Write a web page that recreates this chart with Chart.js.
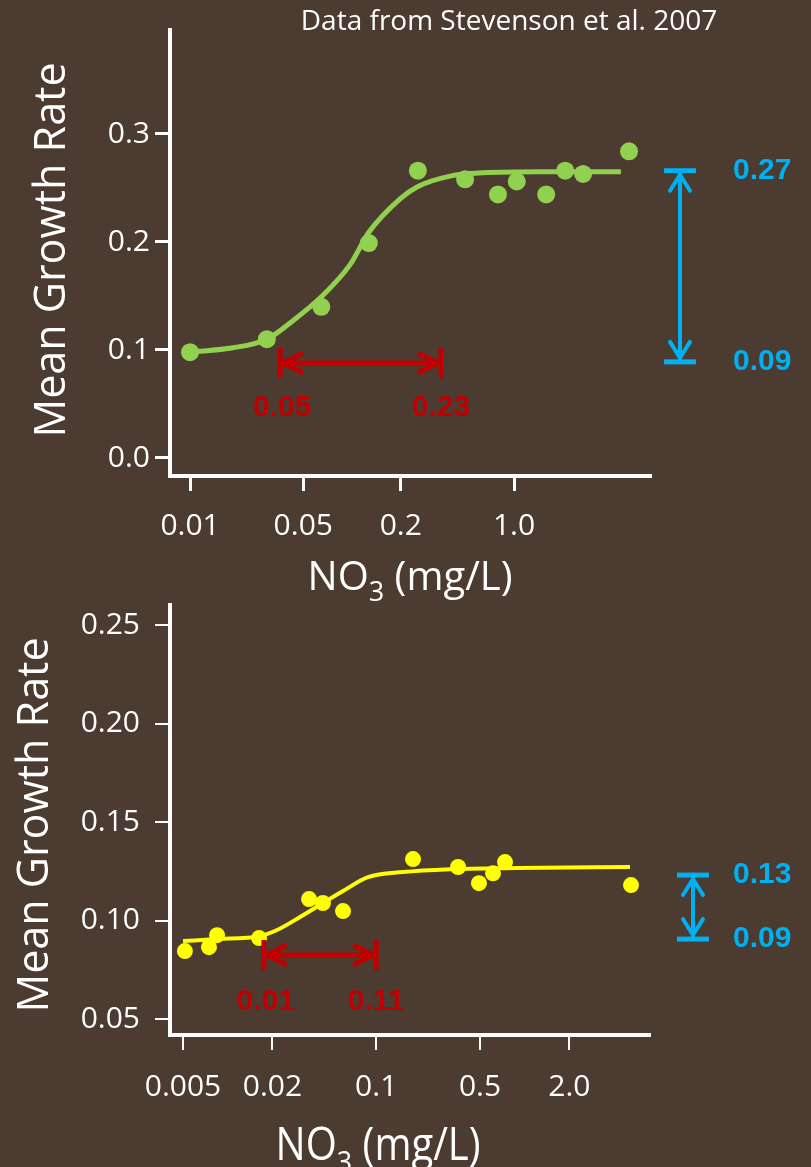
<!DOCTYPE html>
<html lang="en">
<head>
  <meta charset="UTF-8" />
  <title>Mean Growth Rate vs NO3</title>
  <script src="https://cdn.jsdelivr.net/npm/chart.js"></script>
  <style>
    body { margin: 0; background: #4b3b30; width: 811px; height: 1167px; overflow: hidden; position: relative; }
    canvas { position: absolute; left: 0; }
    #topChart { top: 0; }
    #bottomChart { top: 580px; }
  </style>
</head>
<body>
  <canvas id="topChart" width="811" height="612"></canvas>
  <canvas id="bottomChart" width="811" height="587"></canvas>

<script>
  // top panel (green)
  const topDotX = [0.01, 0.0298, 0.0646, 0.127, 0.255, 0.499, 0.796, 1.04, 1.58, 2.07, 2.67, 5.13];
  const topDotY = [0.098, 0.110, 0.140, 0.199, 0.266, 0.258, 0.244, 0.256, 0.244, 0.266, 0.263, 0.284];
  const topFitX = [0.01, 0.0184, 0.0298, 0.0414, 0.0644, 0.0973, 0.127, 0.198, 0.252, 0.403, 0.644, 1.5, 4.57];
  const topFitY = [0.098, 0.102, 0.110, 0.125, 0.149, 0.179, 0.209, 0.240, 0.251, 0.261, 0.264, 0.265, 0.265];
  const topXTicks = [0.01, 0.05, 0.2, 1.0];
  const topXLabels = ['0.01', '0.05', '0.2', '1.0'];
  const topYTicks = [0, 0.1, 0.2, 0.3];
  const topYLabels = ['0.0', '0.1', '0.2', '0.3'];
  const topSpan = [0.036, 0.354];        // red arrow ends (x)
  const topSpanLabels = ['0.05', '0.23'];
  const topRange = [0.266, 0.089];       // blue arrow ends (y)
  const topRangeLabels = ['0.27', '0.09'];

  // bottom panel (yellow)
  const botDotX = [0.00515, 0.00748, 0.00848, 0.01626, 0.0353, 0.0438, 0.0598, 0.177, 0.356, 0.492, 0.612, 0.737, 5.2];
  const botDotY = [0.0845, 0.0865, 0.0926, 0.0911, 0.1109, 0.1089, 0.1048, 0.1312, 0.1272, 0.119, 0.124, 0.1297, 0.118];
  const botFitX = [0.005, 0.00848, 0.0165, 0.0215, 0.0307, 0.0438, 0.0598, 0.0881, 0.151, 0.314, 0.887, 5.12];
  const botFitY = [0.0896, 0.0906, 0.0921, 0.0952, 0.1018, 0.1089, 0.115, 0.122, 0.1246, 0.1261, 0.1267, 0.1272];
  const botXTicks = [0.005, 0.02, 0.1, 0.5, 2.0];
  const botXLabels = ['0.005', '0.02', '0.1', '0.5', '2.0'];
  const botYTicks = [0.05, 0.10, 0.15, 0.20, 0.25];
  const botYLabels = ['0.05', '0.10', '0.15', '0.20', '0.25'];
  const botSpan = [0.01754, 0.1];
  const botSpanLabels = ['0.01', '0.11'];
  const botRange = [0.1231, 0.0906];
  const botRangeLabels = ['0.13', '0.09'];

  const white = '#ffffff';
  const red = '#c00000';
  const blue = '#00b0f0';
  const font = "'Open Sans', sans-serif";
  const boldFont = "bold 30px 'Liberation Sans', Arial, sans-serif";

  const pts = (xs, ys) => xs.map((v, i) => ({ x: v, y: ys[i] }));

  function seg(ctx, x1, y1, x2, y2) {
    ctx.beginPath(); ctx.moveTo(x1, y1); ctx.lineTo(x2, y2); ctx.stroke();
  }
  function poly(ctx, p) {
    ctx.beginPath(); ctx.moveTo(p[0], p[1]); ctx.lineTo(p[2], p[3]); ctx.lineTo(p[4], p[5]); ctx.stroke();
  }

  const decor = {
    id: 'decor',
    afterDraw(chart, args, o) {
      const { ctx, chartArea: a, scales: { x, y } } = chart;
      ctx.save();
      ctx.fillStyle = white;

      if (o.credit) {
        ctx.font = `28px ${font}`;
        ctx.textAlign = 'center';
        ctx.textBaseline = 'alphabetic';
        ctx.fillText(o.credit, 509, 30);
      }

      // y title
      ctx.save();
      ctx.font = `43px ${font}`;
      ctx.translate(o.yTitleX, (a.top + a.bottom) / 2 + o.yTitleShift);
      ctx.rotate(-Math.PI / 2);
      ctx.textAlign = 'center';
      ctx.textBaseline = 'alphabetic';
      ctx.fillText('Mean Growth Rate', 0, 0);
      ctx.restore();

      // x title: NO3 (mg/L) with subscript
      ctx.save();
      ctx.translate(o.xTitleX, o.xTitleY);
      ctx.scale(1, o.xTitleStretch);
      ctx.textAlign = 'left';
      ctx.textBaseline = 'alphabetic';
      const big = `40px ${font}`, small = `27px ${font}`;
      ctx.font = big; const w1 = ctx.measureText('NO').width; const w3 = ctx.measureText(' (mg/L)').width;
      ctx.font = small; const w2 = ctx.measureText('3').width;
      let cx = -(w1 + w2 + w3) / 2;
      ctx.font = big; ctx.fillText('NO', cx, 0); cx += w1;
      ctx.font = small; ctx.fillText('3', cx, 11); cx += w2;
      ctx.font = big; ctx.fillText(' (mg/L)', cx, 0);
      ctx.restore();

      // red span arrow
      const x1 = x.getPixelForValue(o.span[0]);
      const x2 = x.getPixelForValue(o.span[1]);
      const yy = y.getPixelForValue(o.spanY);
      ctx.strokeStyle = red; ctx.lineWidth = 5; ctx.lineCap = 'butt';
      seg(ctx, x1, yy, x2, yy);
      seg(ctx, x1, yy - 15, x1, yy + 15);
      seg(ctx, x2, yy - 15, x2, yy + 15);
      poly(ctx, [x1 + 23, yy - 10, x1 + 3, yy, x1 + 23, yy + 10]);
      poly(ctx, [x2 - 23, yy - 10, x2 - 3, yy, x2 - 23, yy + 10]);
      ctx.fillStyle = red; ctx.font = boldFont;
      ctx.textAlign = 'center'; ctx.textBaseline = 'middle';
      ctx.fillText(o.spanLabels[0], x1 + 2, yy + o.spanLabelDy);
      ctx.fillText(o.spanLabels[1], x2, yy + o.spanLabelDy);

      // blue range arrow
      const bx = a.right + o.rangeDx;
      const y1 = y.getPixelForValue(o.range[0]);
      const y2 = y.getPixelForValue(o.range[1]);
      ctx.strokeStyle = blue; ctx.lineWidth = 4; ctx.lineCap = 'round';
      seg(ctx, bx, y1 + 2, bx, y2 - 2);
      poly(ctx, [bx - 10, y1 + 20, bx, y1 + 4, bx + 10, y1 + 20]);
      poly(ctx, [bx - 10, y2 - 20, bx, y2 - 4, bx + 10, y2 - 20]);
      ctx.lineCap = 'butt'; ctx.lineWidth = 5;
      seg(ctx, bx - 16, y1, bx + 16, y1);
      seg(ctx, bx - 16, y2, bx + 16, y2);
      ctx.fillStyle = blue;
      ctx.textAlign = 'left'; ctx.textBaseline = 'middle';
      ctx.fillText(o.rangeLabels[0], a.right + 83, y1);
      ctx.fillText(o.rangeLabels[1], a.right + 83, y2);

      ctx.restore();
    }
  };

  function makePanel(id, p) {
    const canvas = document.getElementById(id);
    return new Chart(canvas, {
      type: 'scatter',
      data: {
        datasets: [
          { data: pts(p.dotX, p.dotY), pointRadius: p.dotR, pointBackgroundColor: p.color, pointBorderWidth: 0 },
          { data: pts(p.fitX, p.fitY), showLine: true, pointRadius: 0, borderColor: p.color, borderWidth: p.lineW,
            cubicInterpolationMode: 'monotone' }
        ]
      },
      options: {
        responsive: false,
        animation: false,
        layout: { padding: { top: p.areaTop, right: canvas.width - p.areaRight, left: 0, bottom: 0 } },
        plugins: { legend: { display: false }, tooltip: { enabled: false }, decor: p.decor },
        scales: {
          x: {
            type: 'logarithmic', min: p.xMin, max: p.xMax,
            afterFit: s => { s.height = canvas.height - p.areaBottom; },
            afterBuildTicks: s => { s.ticks = p.xTicks.map(v => ({ value: v })); },
            ticks: { callback: (v, i) => p.xLabels[i], autoSkip: false, maxRotation: 0, padding: p.xPad,
                     color: white, font: { family: font, size: 30 } },
            grid: { drawOnChartArea: false, tickLength: 15, color: white, lineWidth: p.tickW },
            border: { color: white, width: 4 }
          },
          y: {
            type: 'linear', min: p.yMin, max: p.yMax,
            afterFit: s => { s.width = p.areaLeft; s.paddingTop = 0; s.paddingBottom = 0; },
            afterBuildTicks: s => { s.ticks = p.yTicks.map(v => ({ value: v })); },
            ticks: { callback: (v, i) => p.yLabels[i], padding: p.yPad, color: white, font: { family: font, size: 30 } },
            grid: { drawOnChartArea: false, tickLength: 15, color: white, lineWidth: p.tickW },
            border: { color: white, width: 4 }
          }
        }
      },
      plugins: [decor]
    });
  }

  makePanel('topChart', {
    dotX: topDotX, dotY: topDotY, fitX: topFitX, fitY: topFitY,
    xTicks: topXTicks, xLabels: topXLabels, yTicks: topYTicks, yLabels: topYLabels,
    color: '#92d050', dotR: 9, lineW: 5, tickW: 3,
    areaLeft: 170, areaRight: 650, areaTop: 30, areaBottom: 476,
    xMin: 0.00752, xMax: 6.91, yMin: -0.0167, yMax: 0.3963, xPad: 17, yPad: 5,
    decor: {
      credit: 'Data from Stevenson et al. 2007',
      yTitleX: 65, yTitleShift: -3, xTitleX: 410, xTitleY: 590, xTitleStretch: 1,
      span: topSpan, spanY: 0.088, spanLabels: topSpanLabels, spanLabelDy: 45,
      range: topRange, rangeLabels: topRangeLabels, rangeDx: 30
    }
  });

  makePanel('bottomChart', {
    dotX: botDotX, dotY: botDotY, fitX: botFitX, fitY: botFitY,
    xTicks: botXTicks, xLabels: botXLabels, yTicks: botYTicks, yLabels: botYLabels,
    color: '#ffff00', dotR: 8, lineW: 4, tickW: 2,
    areaLeft: 170, areaRight: 650, areaTop: 25, areaBottom: 455,
    xMin: 0.004088, xMax: 6.98, yMin: 0.0419, yMax: 0.2602, xPad: 19, yPad: 15,
    decor: {
      yTitleX: 48, yTitleShift: 5, xTitleX: 378, xTitleY: 580, xTitleStretch: 1.15,
      span: botSpan, spanY: 0.0825, spanLabels: botSpanLabels, spanLabelDy: 47,
      range: botRange, rangeLabels: botRangeLabels, rangeDx: 43
    }
  });
</script>
</body>
</html>
